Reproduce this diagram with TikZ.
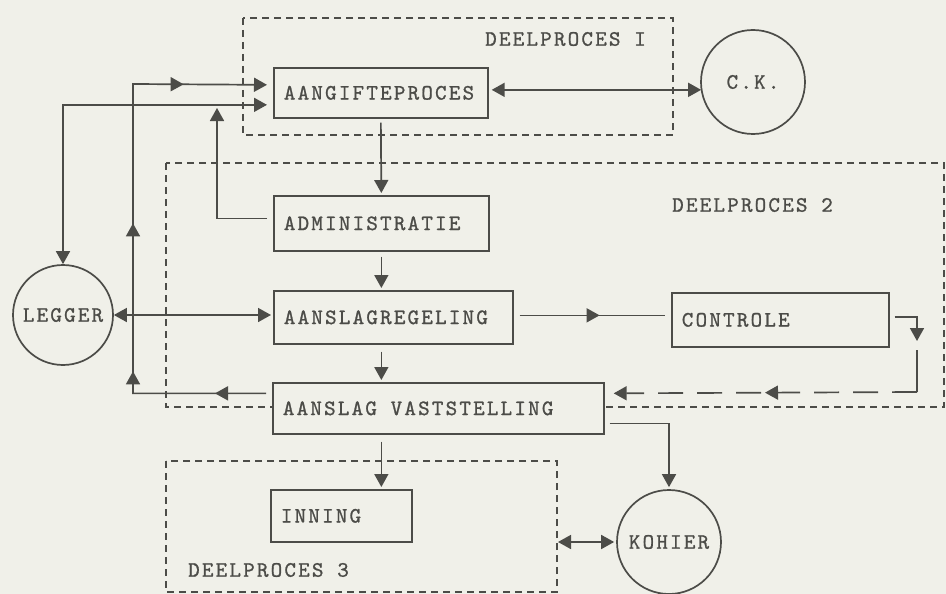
\documentclass[tikz,border=0pt]{standalone}
\usepackage{fontspec}
\usetikzlibrary{arrows.meta,decorations.markings}
\definecolor{paper}{RGB}{240,240,233}
\definecolor{inkc}{RGB}{76,76,72}
\newfontfamily\twfont[LetterSpace=10,FakeBold=1]{lmmono10-regular.otf}
\newcommand\tw{\twfont\fontsize{22}{26}\selectfont}
\newcommand\lft[2]{\makebox[#1][l]{#2}}
\tikzset{
  Head/.tip={Triangle[length=13pt,width=14pt]},
  ink/.style={draw=inkc,line width=1.7pt},
  proc/.style={ink,fill=paper,rectangle,inner xsep=10pt,inner ysep=0pt,
    minimum height=#1,anchor=north west,font=\tw,text=inkc},
  store/.style={ink,fill=paper,circle,inner sep=0pt,minimum size=#1,font=\tw,text=inkc},
  flow/.style={ink,-Head,shorten >=2pt},
  both/.style={ink,Head-Head,shorten >=2pt},
  group/.style={draw=inkc,line width=1.3pt,dash pattern=on 7pt off 5pt},
  longdash/.style={dash pattern=on 25pt off 14pt},
  tipat/.style={postaction={decorate,decoration={markings,mark=at position #1 with {\arrow{Head}}}}},
  grouplabel/.style={anchor=west,font=\tw,text=inkc,inner sep=0pt}
}
\begin{document}
\begin{tikzpicture}[x=1pt,y=-1pt]
 \fill[paper] (0,0) rectangle (946,594);
 \useasboundingbox (0,0) rectangle (946,594);
 \draw[group] (243,18) rectangle (673,135);
 \draw[group] (166,163) rectangle (944,407);
 \draw[group] (166,461) rectangle (557,592);
 \node[grouplabel] (dp1) at (485,39) {DEELPROCES I};
 \node[grouplabel] (dp2) at (672,205) {DEELPROCES 2};
 \node[grouplabel] (dp3) at (188,570) {DEELPROCES 3};
 \node[proc=50pt] (aangifte) at (273,67) {\lft{194pt}{AANGIFTEPROCES}};
 \node[proc=55pt] (admin) at (273,195) {\lft{195pt}{ADMINISTRATIE}};
 \node[proc=53pt] (regel) at (273,290) {\lft{219pt}{AANSLAGREGELING}};
 \node[proc=54pt] (controle) at (671,292) {\lft{197pt}{CONTROLE}};
 \node[proc=51pt] (vast) at (272,382) {\lft{311pt}{AANSLAG VASTSTELLING}};
 \node[proc=52pt] (inning) at (270,489) {\lft{121pt}{INNING}};
 \node[store=104pt] (ck) at (753,82) {C.K.};
 \node[store=100pt] (legger) at (63,315) {LEGGER};
 \node[store=104pt] (kohier) at (669,542) {KOHIER};
 \coordinate (loop) at (133,84);
 \coordinate (admup) at (217,106);
 \coordinate (cbend) at (917,343);
 \coordinate (cdash) at (917,392);
 \coordinate (dp3out) at (558,542);
 \draw[flow,tipat=51pt,tipat=155pt,tipat=303pt,tipat=493pt] ([xshift=-6pt,yshift=15pt]vast.west) -| (loop) -- ([xshift=-4pt,yshift=8pt]aangifte.west);
 \draw[both] (legger.north) |- ([xshift=-4pt,yshift=-12pt]aangifte.west);
 \draw[flow] ([xshift=-6pt,yshift=5pt]admin.west) -| (admup);
 \draw[both] ([xshift=3pt,yshift=3pt]aangifte.east) -- ([xshift=3pt,yshift=3pt]aangifte.east -| ck.west);
 \draw[flow] ([yshift=-4pt]aangifte.south) -- (admin.north);
 \draw[flow] ([yshift=-5pt]admin.south) -- (admin.south |- regel.north);
 \draw[flow] ([yshift=-7pt]admin.south |- regel.south) -- (admin.south |- vast.north);
 \draw[flow] ([yshift=-7pt]admin.south |- vast.south) -- (admin.south |- inning.north);
 \draw[both] (legger.east) -- (legger.east -| regel.west);
 \draw[ink,tipat=0.55] ([xshift=6pt,yshift=2pt]regel.east) -- ([xshift=-6pt,yshift=2pt]regel.east -| controle.west);
 \draw[flow] ([xshift=5pt,yshift=3pt]controle.east) -| (cbend);
 \draw[ink] ([yshift=-7pt]cbend) -- (cdash);
 \draw[flow,longdash,tipat=152pt] (cdash) -- ([xshift=7pt,yshift=15pt]vast.east);
 \draw[flow] ([xshift=5pt,yshift=-15pt]vast.east) -| (kohier.north);
 \draw[both] (dp3out) -- (kohier.west);
\end{tikzpicture}
\end{document}
